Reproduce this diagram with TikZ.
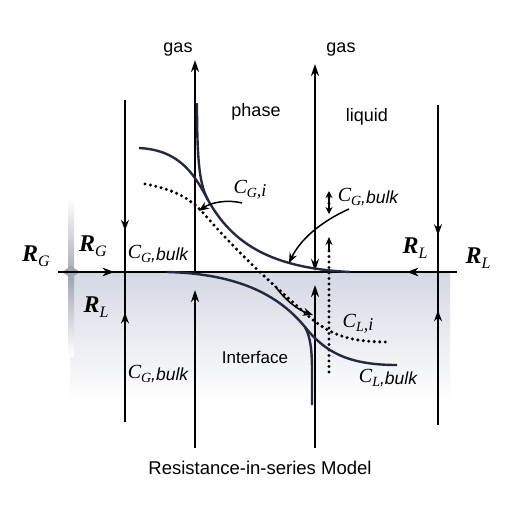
\documentclass[tikz,border=0pt]{standalone}
\usepackage{fontspec}
\setmainfont{Liberation Sans}
\newfontfamily\tms{Liberation Serif}
\usetikzlibrary{arrows.meta,decorations.markings}
\definecolor{curvecol}{RGB}{35,42,64}
\definecolor{shadecol}{RGB}{202,207,220}
\definecolor{barcol}{RGB}{160,166,178}
\newcommand{\RR}[1]{{\tms\fontsize{24}{24}\selectfont\bfseries\itshape R}\raisebox{-5pt}{\tms\fontsize{16}{16}\selectfont\itshape #1}}
\newcommand{\Cbulk}[1]{{\tms\fontsize{20}{20}\selectfont\itshape C}\raisebox{-4pt}{\tms\fontsize{14}{14}\selectfont\itshape #1}\raisebox{-2pt}{\fontsize{17.5}{17.5}\selectfont\itshape ,bulk}}
\newcommand{\Ci}[1]{{\tms\fontsize{20}{20}\selectfont\itshape C}\raisebox{-4pt}{\tms\fontsize{14}{14}\selectfont\itshape #1}\raisebox{-3pt}{\tms\fontsize{18}{18}\selectfont\itshape ,i}}
\begin{document}
\begin{tikzpicture}[x=1pt,y=-1pt,
  thickln/.style={line width=2.3pt},
  thinln/.style={line width=1.5pt},
  curveln/.style={line width=2.4pt,draw=curvecol},
  dotln/.style={line width=3.4pt,dash pattern=on 0pt off 5.5pt,line cap=round},
  smallarr/.style={line width=1.5pt,-{Stealth[length=10pt,width=8pt]}},
  bigtip/.style={-{Stealth[length=12pt,width=8pt]}},
  midarrow/.style={postaction={decorate},decoration={markings,mark=at position #1 with {\arrow{Stealth[length=11pt,width=8pt]}}}},
  midarrowrev/.style={postaction={decorate},decoration={markings,mark=at position #1 with {\arrowreversed{Stealth[length=11pt,width=8pt]}}}},
  lbl/.style={inner sep=0pt,font=\fontsize{18}{18}\selectfont},
  mlbl/.style={inner sep=0pt}]
\useasboundingbox (0,0) rectangle (512,512);
\fill[white] (0,0) rectangle (512,512);
% shading below interface
\begin{scope}
\clip (70,272) rectangle (450,410);
\shade[top color=shadecol,bottom color=white] (70,242) rectangle (450,402);
\end{scope}
% left grey bar and diamond
\shade[top color=white,bottom color=white,middle color=barcol] (68,198) rectangle (74,356);
\fill[barcol] (62,272) -- (71,266) -- (80,272) -- (71,278) -- cycle;
% coordinates
\coordinate (iL) at (58,272);
\coordinate (iR) at (457,272);
\coordinate (a1t) at (125,100); \coordinate (a1m) at (125,272); \coordinate (a1b) at (125,422);
\coordinate (a2t) at (195,60);  \coordinate (a2m) at (195,272); \coordinate (a2b) at (195,448); \coordinate (a2e) at (195,290);
\coordinate (a3t) at (315,64);  \coordinate (a3m) at (315,271); \coordinate (a3b) at (315,448); \coordinate (a3e) at (315,285);
\coordinate (a4t) at (438,105); \coordinate (a4m) at (438,272); \coordinate (a4b) at (438,425);
\coordinate (d1) at (329,372); \coordinate (d2) at (329,237); \coordinate (d3) at (329,214); \coordinate (d4) at (329,191);
% interface line
\draw[thickln,midarrow=0.14,midarrowrev=0.875] (iL) -- (iR);
% vertical lines
\draw[thinln,midarrow=0.76] (a1t) -- (a1m);
\draw[thinln,midarrow=0.73] (a1b) -- (a1m);
\draw[thinln,midarrow=0.78] (a4t) -- (a4m);
\draw[thinln,midarrow=0.75] (a4b) -- (a4m);
\draw[thickln,bigtip] (a2m) -- (a2t);
\draw[thickln,bigtip] (a2b) -- (a2e);
\draw[thickln,{Stealth[length=12pt,width=8pt]}-{Stealth[length=12pt,width=8pt]}] (a3t) -- (a3m);
\draw[thickln,bigtip] (a3b) -- (a3e);
% dotted verticals
\draw[dotln] (d1) -- (329,248);
\draw[line width=1.3pt,-{Stealth[length=8pt,width=7pt]}] (329,250) -- (d2);
\draw[dotln] (329,198) -- (329,208);
\draw[line width=1.2pt,{Stealth[length=7pt,width=7pt]}-{Stealth[length=7pt,width=7pt]}] (d4) -- (d3);
% curves
\draw[curveln] (139,148) .. controls (182,150) and (196,178) .. (208,200)
   .. controls (232,243) and (270,268) .. (350,272);
\draw[curveln] (197,103) .. controls (197,165) and (200,185) .. (208,200);
\draw[curveln] (167,272) .. controls (250,274) and (285,303) .. (305,327)
   .. controls (325,352) and (348,365) .. (397,365);
\draw[curveln] (305,327) .. controls (311,338) and (312,352) .. (312,372) -- (312,405);
\draw[dotln] (145,184) .. controls (178,190) and (193,201) .. (205,215)
   .. controls (240,255) and (270,282) .. (305,313)
   .. controls (330,336) and (350,342) .. (390,342);
% labels
\node[lbl] (gas1) at (178,50) {gas};
\node[lbl] (gas2) at (341,50) {gas};
\node[lbl] (phase) at (256,112) {phase};
\node[lbl] (liquid) at (367,117) {liquid};
\node[lbl,font=\fontsize{17}{17}\selectfont] (iface) at (255,357) {Interface};
\node[lbl,font=\fontsize{18.5}{18.5}\selectfont] (title) at (260,468) {Resistance-in-series Model};
\node[mlbl] (RGo) at (36,256) {\RR{G}};
\node[mlbl] (RGi) at (93,246) {\RR{G}};
\node[mlbl] (RLi) at (96,307) {\RR{L}};
\node[mlbl] (RLr) at (415,248) {\RR{L}};
\node[mlbl] (RLo) at (478,258) {\RR{L}};
\node[mlbl] (CGb1) at (158,254) {\Cbulk{G}};
\node[mlbl] (CGb2) at (158,374) {\Cbulk{G}};
\node[mlbl] (CGb3) at (368,197) {\Cbulk{G}};
\node[mlbl] (CLb) at (388,378) {\Cbulk{L}};
\node[mlbl] (CGi) at (250,190) {\Ci{G}};
\node[mlbl] (CLi) at (358,324) {\Ci{L}};
% small pointer arrows
\coordinate (p1s) at (242,203); \coordinate (p1e) at (199,211);
\coordinate (p2s) at (349,209); \coordinate (p2e) at (289,263);
\coordinate (p3s) at (275,286); \coordinate (p3e) at (313,315);
\draw[smallarr] (p1s) .. controls (226,199) and (210,203) .. (p1e);
\draw[smallarr] (p2s) .. controls (320,222) and (300,240) .. (p2e);
\draw[smallarr] (p3s) .. controls (285,300) and (298,310) .. (p3e);
\end{tikzpicture}
\end{document}
